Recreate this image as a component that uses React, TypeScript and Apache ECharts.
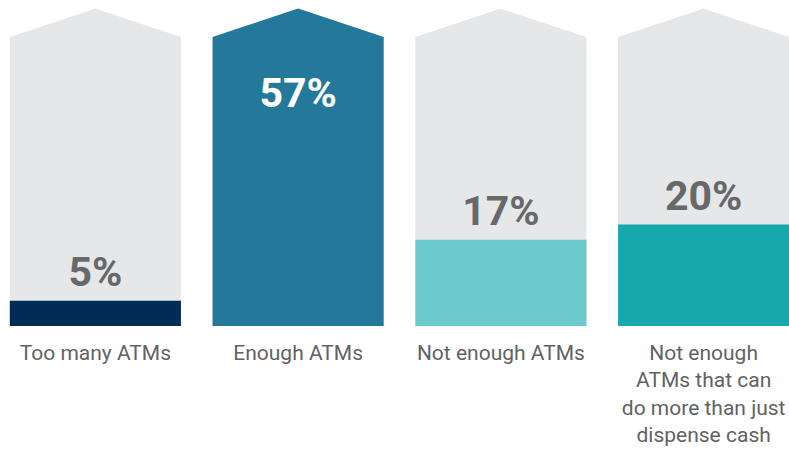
import React, { useEffect, useRef } from "react";
import * as echarts from "echarts";

const categories = [
  "Too many ATMs",
  "Enough ATMs",
  "Not enough ATMs",
  "Not enough\nATMs that can\ndo more than just\ndispense cash",
];
const values = [5, 57, 17, 20];
const fillColors = ["#002c56", "#247899", "#6acacb", "#17a8ae"];
const FONT = "Roboto, 'DejaVu Sans Condensed', sans-serif";

export default function App() {
  const ref = useRef<HTMLDivElement>(null);
  useEffect(() => {
    if (!ref.current) return;
    const chart = echarts.init(ref.current, null, { renderer: "svg" });
    const maxV = Math.max(...values);
    chart.setOption({
      animation: false,
      grid: { left: 0, right: 0, top: 37, bottom: 128 },
      xAxis: {
        type: "category",
        data: categories,
        axisLine: { show: false },
        axisTick: { show: false },
        axisLabel: {
          interval: 0,
          margin: 13,
          fontFamily: FONT,
          fontSize: 21,
          lineHeight: 27.5,
          color: "#616264",
          align: "center",
        },
      },
      yAxis: { type: "value", min: 0, max: maxV, show: false, splitLine: { show: false } },
      series: [
        {
          type: "custom",
          data: values.map((v, i) => ({ value: [i, v], itemStyle: { color: fillColors[i] } })),
          renderItem: (params: any, api: any) => {
            const idx = api.value(0);
            const v = api.value(1);
            const base = api.coord([idx, 0]);
            const top = api.coord([idx, v]);
            const cap = api.coord([idx, maxV]);
            const bw = api.size([1, 0])[0] * 0.844;
            const cx = base[0];
            const x0 = cx - bw / 2;
            const x1 = cx + bw / 2;
            const roof = bw * 0.166;
            const pts = [
              [x0, base[1]],
              [x0, cap[1]],
              [cx, cap[1] - roof],
              [x1, cap[1]],
              [x1, base[1]],
            ];
            const color = api.visual("color");
            const full = v >= maxV;
            const children: any[] = [
              { type: "polygon", shape: { points: pts }, style: { fill: "#e6e7e9" } },
            ];
            if (full) {
              children.push({ type: "polygon", shape: { points: pts }, style: { fill: color } });
            } else {
              children.push({
                type: "rect",
                shape: { x: x0, y: top[1], width: bw, height: base[1] - top[1] },
                style: { fill: color },
              });
            }
            children.push({
              type: "text",
              style: {
                text: v + "%",
                x: cx,
                y: full ? cap[1] + 56 : top[1] - 29,
                align: "center",
                verticalAlign: "middle",
                fill: full ? "#ffffff" : "#67686a",
                font: `bold 41px ${FONT}`,
              },
            });
            return { type: "group", children };
          },
        },
      ],
    });
    return () => chart.dispose();
  }, []);
  return (
    <div
      ref={ref}
      style={{ position: "fixed", left: -6, top: 0, width: 811, height: 454, background: "#ffffff" }}
    />
  );
}
